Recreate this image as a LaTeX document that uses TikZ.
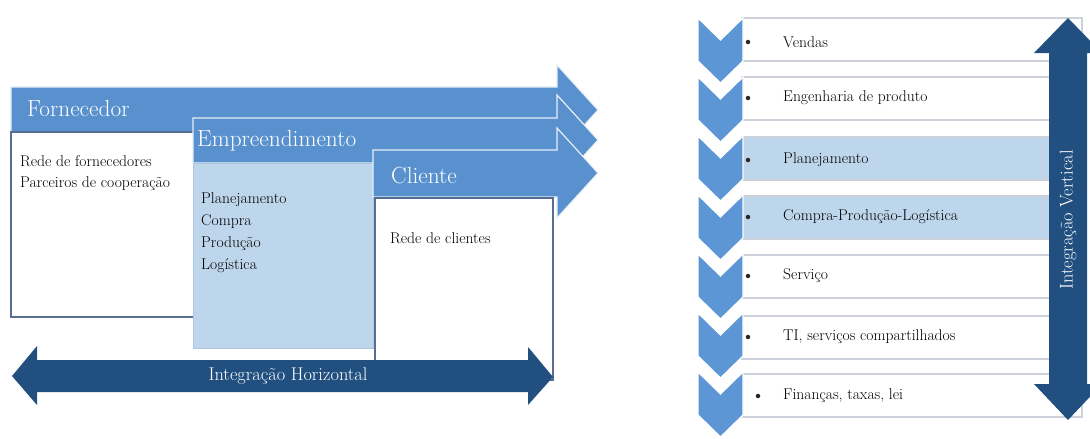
\documentclass[tikz,border=0pt]{standalone}
\usepackage{fontspec}
\definecolor{band}{RGB}{88,145,206}
\definecolor{darkarrow}{RGB}{33,80,128}
\definecolor{lightb}{RGB}{190,214,236}
\definecolor{slate}{RGB}{85,110,145}
\definecolor{rowline}{RGB}{205,210,218}
\definecolor{chev}{RGB}{92,150,212}
\begin{document}
\begin{tikzpicture}[x=1pt,y=-1pt,
  bandarrow/.style={fill=band, draw=white!85!band, line width=1.2pt, line join=miter},
  whitebox/.style={fill=white, draw=slate, line width=1.4pt},
  lightbox/.style={fill=lightb, draw=lightb!85!slate, line width=1pt},
  darkshape/.style={fill=darkarrow, draw=none},
  title/.style={anchor=west, text=white, font=\rmfamily\fontsize{23.3}{26}\selectfont\addfontfeatures{FakeBold=0.3}, inner sep=0pt},
  body/.style={anchor=west, font=\rmfamily\fontsize{15.6}{18}\selectfont\addfontfeatures{FakeBold=0.5}, inner sep=0pt},
  bigwhite/.style={text=white, font=\rmfamily\fontsize{18.4}{22}\selectfont\addfontfeatures{FakeBold=0.4}, inner sep=0pt},
  rowwhite/.style={fill=white, draw=rowline, line width=1.4pt},
  rowlight/.style={fill=lightb, draw=rowline, line width=1.4pt},
  chevron/.style={fill=chev, draw=white, line width=1.2pt},
  bullet/.style={circle, fill=black!85, inner sep=0pt, minimum size=4.5pt}]
\useasboundingbox (0,0) rectangle (1090,439);
\clip (0,0) rectangle (1090,439);

% ---------- left panel ----------
% Fornecedor
\draw[bandarrow] (11,87) -- (557,87) -- (557,65) -- (598,110) -- (557,155) -- (557,132) -- (11,132) -- cycle;
\draw[whitebox] (11,132) rectangle (195,317);
\node[title] (forn) at (27,109) {Fornecedor};
\node[body] (forn1) at (20,161) {Rede de fornecedores};
\node[body] (forn2) at (20,184) {Parceiros de cooperação};

% Empreendimento
\draw[bandarrow] (193,118) -- (557,118) -- (557,95) -- (598,140) -- (557,185) -- (557,163) -- (193,163) -- cycle;
\draw[lightbox] (193,163) rectangle (373,348);
\node[title] (emp) at (197,141) {Empreendimento};
\node[body] (emp1) at (201,200) {Planejamento};
\node[body] (emp2) at (201,222) {Compra};
\node[body] (emp3) at (201,244) {Produção};
\node[body] (emp4) at (201,266) {Logística};

% Cliente
\draw[bandarrow] (373,150) -- (557,150) -- (557,128) -- (598,173) -- (557,218) -- (557,197) -- (373,197) -- cycle;
\draw[whitebox] (375,198) rectangle (553,380);
\node[title] (cli) at (391,176) {Cliente};
\node[body] (cli1) at (390,238) {Rede de clientes};

% Integracao horizontal
\draw[darkshape] (12,376) -- (37,346) -- (37,360) -- (528,360) -- (528,347) -- (553,377) -- (528,405) -- (528,392) -- (37,392) -- (37,405) -- cycle;
\node[bigwhite] (hor) at (288,376) {Integração Horizontal};

% ---------- right panel ----------
\foreach \t/\s in {18/rowwhite,77/rowwhite,137/rowlight,196/rowlight,255/rowwhite,316/rowwhite,374/rowwhite}{
  \draw[\s] (742,\t) rectangle (1082,\t+43);
}
\foreach \t in {18,77,136,195,254,313,372}{
  \draw[chevron] (698,\t) -- (720.5,\t+22) -- (743,\t) -- (743,\t+43) -- (720.5,\t+65) -- (698,\t+43) -- cycle;
}
\node[bullet] (b1) at (748,42) {};
\node[bullet] (b2) at (748,98) {};
\node[bullet] (b3) at (748,160) {};
\node[bullet] (b4) at (748,217) {};
\node[bullet] (b5) at (748,276) {};
\node[bullet] (b6) at (748,337) {};
\node[bullet] (b7) at (758,396) {};
\node[body] (r1) at (783,42) {Vendas};
\node[body] (r2) at (783,98) {Engenharia de produto};
\node[body] (r3) at (783,160) {Planejamento};
\node[body] (r4) at (783,217) {Compra-Produção-Logística};
\node[body] (r5) at (783,276) {Serviço};
\node[body] (r6) at (783,337) {TI, serviços compartilhados};
\node[body] (r7) at (783,396) {Finanças, taxas, lei};

% Integracao vertical
\draw[darkshape] (1068,18) -- (1102,53) -- (1087,53) -- (1087,384) -- (1102,384) -- (1068,420) -- (1034,384) -- (1049,384) -- (1049,53) -- (1034,53) -- cycle;
\node[bigwhite, rotate=90] (ver) at (1068,220) {Integração Vertical};
\end{tikzpicture}
\end{document}
